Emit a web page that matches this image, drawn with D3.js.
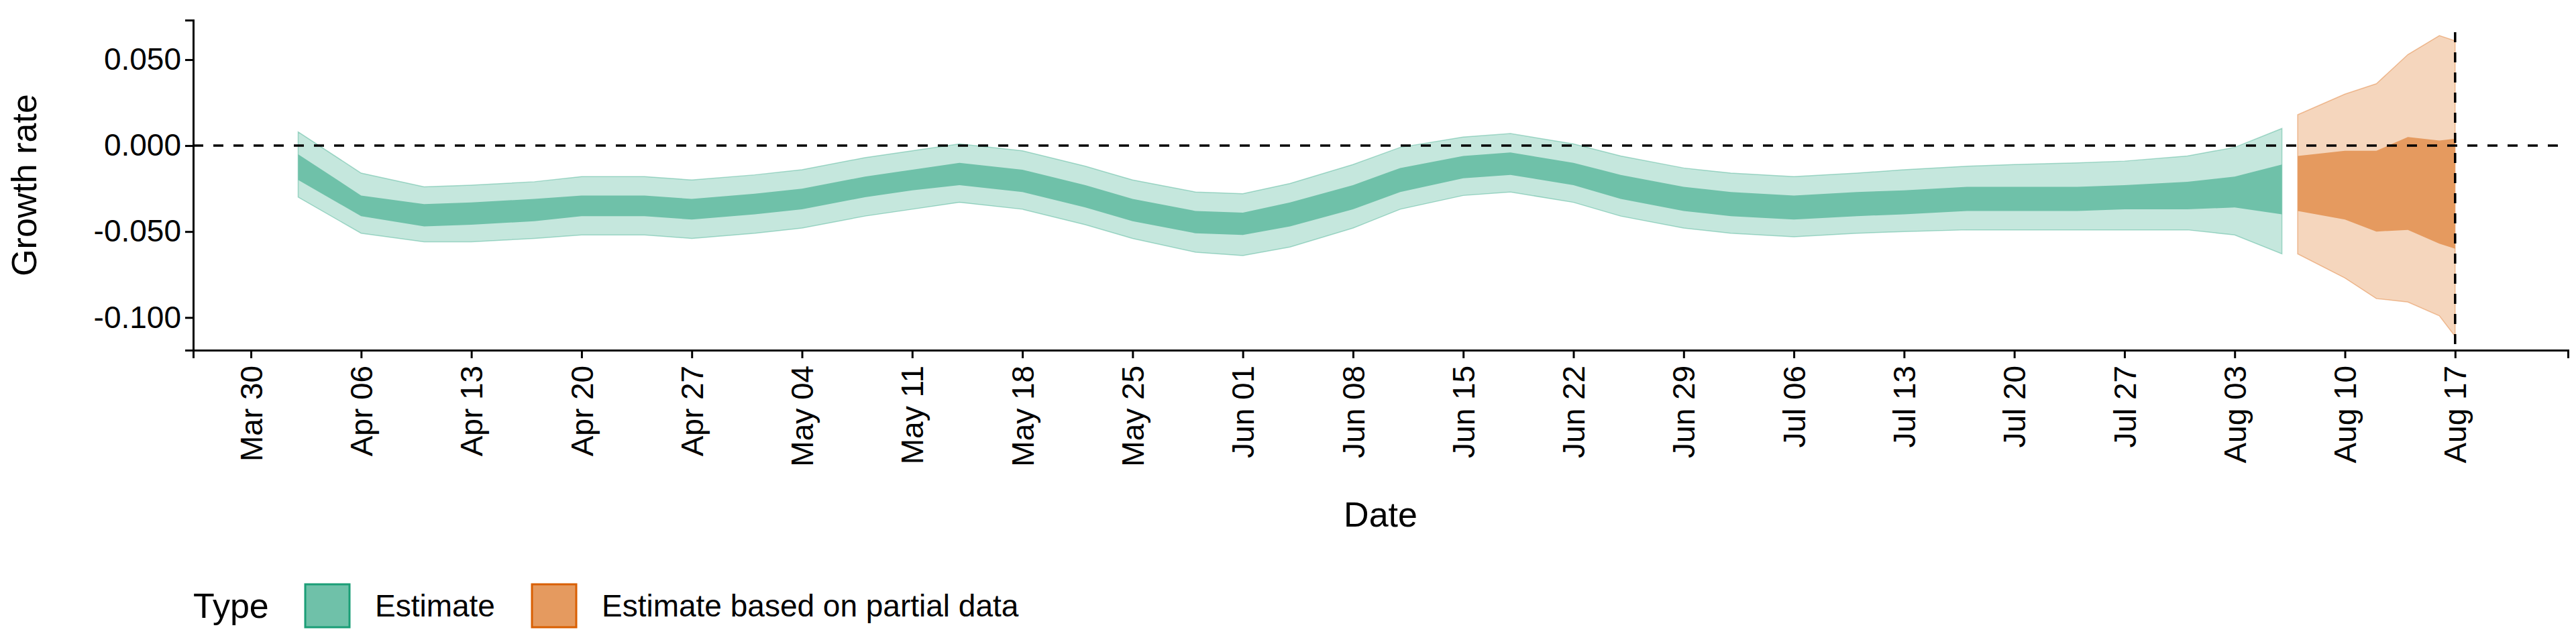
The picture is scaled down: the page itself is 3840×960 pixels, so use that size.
<!DOCTYPE html>
<html>
<head>
<meta charset="utf-8">
<script src="https://cdn.jsdelivr.net/npm/d3@7"></script>
<style>
  body { margin: 0; background: #fff; }
  text { font-family: "Liberation Sans", Arial, sans-serif; }
</style>
</head>
<body>
<div id="chart"></div>
<script>
// estimate (complete data)
var estDates = ["2020-04-02","2020-04-06","2020-04-10","2020-04-13","2020-04-17","2020-04-20","2020-04-24","2020-04-27",
  "2020-05-01","2020-05-04","2020-05-08","2020-05-11","2020-05-14","2020-05-18","2020-05-22","2020-05-25","2020-05-29",
  "2020-06-01","2020-06-04","2020-06-08","2020-06-11","2020-06-15","2020-06-18","2020-06-22","2020-06-25","2020-06-29",
  "2020-07-02","2020-07-06","2020-07-10","2020-07-13","2020-07-17","2020-07-20","2020-07-24","2020-07-27","2020-07-31",
  "2020-08-03","2020-08-06"];
var estLo90 = [-0.030,-0.051,-0.056,-0.056,-0.054,-0.052,-0.052,-0.054,-0.051,-0.048,-0.041,-0.037,-0.033,-0.037,-0.046,-0.054,-0.062,
  -0.064,-0.059,-0.048,-0.037,-0.029,-0.027,-0.033,-0.041,-0.048,-0.051,-0.053,-0.051,-0.050,-0.049,-0.049,-0.049,-0.049,-0.049,
  -0.052,-0.063];
var estLo50 = [-0.020,-0.041,-0.047,-0.046,-0.044,-0.041,-0.041,-0.043,-0.040,-0.037,-0.030,-0.026,-0.023,-0.027,-0.036,-0.044,-0.051,
  -0.052,-0.047,-0.037,-0.027,-0.019,-0.017,-0.023,-0.031,-0.038,-0.041,-0.043,-0.041,-0.040,-0.038,-0.038,-0.038,-0.037,-0.037,
  -0.036,-0.040];
var estHi50 = [-0.005,-0.029,-0.034,-0.033,-0.031,-0.029,-0.029,-0.031,-0.028,-0.025,-0.018,-0.014,-0.010,-0.014,-0.023,-0.031,-0.038,
  -0.039,-0.033,-0.023,-0.013,-0.006,-0.004,-0.010,-0.017,-0.024,-0.027,-0.029,-0.027,-0.026,-0.024,-0.024,-0.024,-0.023,-0.021,
  -0.018,-0.011];
var estHi90 = [0.008,-0.016,-0.024,-0.023,-0.021,-0.018,-0.018,-0.020,-0.017,-0.014,-0.007,-0.003,0.001,-0.003,-0.012,-0.020,-0.027,
  -0.028,-0.022,-0.011,-0.001,0.005,0.007,0.001,-0.006,-0.013,-0.016,-0.018,-0.016,-0.014,-0.012,-0.011,-0.010,-0.009,-0.006,
  -0.001,0.010];

// estimate based on partial data
var partDates = ["2020-08-07","2020-08-10","2020-08-12","2020-08-14","2020-08-16","2020-08-17"];
var partLo90 = [-0.063,-0.077,-0.089,-0.091,-0.099,-0.111];
var partLo50 = [-0.038,-0.043,-0.050,-0.049,-0.057,-0.060];
var partHi50 = [-0.006,-0.003,-0.003,0.005,0.003,0.004];
var partHi90 = [0.018,0.030,0.036,0.053,0.064,0.061];

var yTicks = [0.05, 0, -0.05, -0.1];
var legendLabels = ["Estimate", "Estimate based on partial data"];

var W = 3840, H = 960;
var margin = { top: 30, right: 12, bottom: 438, left: 288 },
    width = W - margin.left - margin.right,
    height = H - margin.top - margin.bottom;

var parse = d3.timeParse("%Y-%m-%d");
function rows(dates, lo90, lo50, hi50, hi90) {
  return dates.map(function(d, i) {
    return { date: parse(d), lo90: lo90[i], lo50: lo50[i], hi50: hi50[i], hi90: hi90[i] };
  });
}
var est = rows(estDates, estLo90, estLo50, estHi50, estHi90);
var part = rows(partDates, partLo90, partLo50, partHi50, partHi90);

var svg = d3.select("#chart").append("svg")
    .attr("width", W).attr("height", H)
    .append("g")
    .attr("transform", "translate(" + margin.left + "," + margin.top + ")");

var x = d3.scaleTime()
    .domain([new Date(2020, 2, 26, 8), new Date(2020, 7, 24, 4)])
    .range([0, width]);
var y = d3.scaleLinear()
    .domain([-0.119, 0.073])
    .range([height, 0]);

var groups = [
  { data: est, dark: "#6fc1a9", light: "#c5e7dd", stroke: "#1b9e77" },
  { data: part, dark: "#e59a5f", light: "#f5d6bd", stroke: "#d95f02" }
];

groups.forEach(function(g) {
  var outer = d3.area().x(function(d) { return x(d.date); })
      .y0(function(d) { return y(d.lo90); }).y1(function(d) { return y(d.hi90); });
  var inner = d3.area().x(function(d) { return x(d.date); })
      .y0(function(d) { return y(d.lo50); }).y1(function(d) { return y(d.hi50); });
  svg.append("path").datum(g.data).attr("d", outer)
      .attr("fill", g.light).attr("stroke", g.stroke).attr("stroke-opacity", 0.35).attr("stroke-width", 1.5);
  svg.append("path").datum(g.data).attr("d", inner)
      .attr("fill", g.dark);
});

// reference lines
svg.append("line")
    .attr("x1", 0).attr("x2", width).attr("y1", y(0)).attr("y2", y(0))
    .attr("stroke", "#000").attr("stroke-width", 3.5).attr("stroke-dasharray", "15,15");
svg.append("line")
    .attr("x1", x(parse("2020-08-17"))).attr("x2", x(parse("2020-08-17")))
    .attr("y1", y(0.066)).attr("y2", height)
    .attr("stroke", "#000").attr("stroke-width", 3.5).attr("stroke-dasharray", "15,15");

// axes
var xAxis = svg.append("g")
    .attr("transform", "translate(0," + height + ")")
    .call(d3.axisBottom(x)
        .tickValues(d3.timeMonday.every(1).range(new Date(2020, 2, 30), new Date(2020, 7, 18)))
        .tickFormat(d3.timeFormat("%b %d")).tickSizeOuter(0).tickSize(12));
xAxis.selectAll("text")
    .attr("font-size", 46).attr("fill", "#000")
    .attr("transform", "rotate(-90)")
    .attr("text-anchor", "end").attr("dx", "-0.3em").attr("dy", "0.35em").attr("x", -9).attr("y", 0);

var fmtY = d3.format(".3f");
var yAxis = svg.append("g")
    .call(d3.axisLeft(y).tickValues(yTicks)
        .tickFormat(function(d) { return fmtY(d).replace("\u2212", "-"); })
        .tickSizeOuter(0).tickSize(12));
yAxis.selectAll("text").attr("font-size", 46).attr("fill", "#000").attr("x", -18);

svg.selectAll(".domain, .tick line").attr("stroke", "#000").attr("stroke-width", 3);

svg.append("text")
    .attr("x", width / 2).attr("y", 755)
    .attr("text-anchor", "middle").attr("font-size", 52).text("Date");
svg.append("text")
    .attr("transform", "rotate(-90)")
    .attr("x", -height / 2).attr("y", -234)
    .attr("text-anchor", "middle").attr("font-size", 52).text("Growth rate");

// legend
var legend = d3.select("svg").append("g").attr("transform", "translate(288,903)");
legend.append("text").attr("x", 0).attr("y", 0).attr("dy", "0.35em")
    .attr("font-size", 52).text("Type");
var keyX = [167, 505];
legendLabels.forEach(function(lab, i) {
  legend.append("rect")
      .attr("x", keyX[i]).attr("y", -32).attr("width", 66).attr("height", 64)
      .attr("fill", groups[i].dark).attr("stroke", groups[i].stroke).attr("stroke-width", 3);
  legend.append("text")
      .attr("x", keyX[i] + 104).attr("y", 0).attr("dy", "0.35em")
      .attr("font-size", 46).text(lab);
});
</script>
</body>
</html>
